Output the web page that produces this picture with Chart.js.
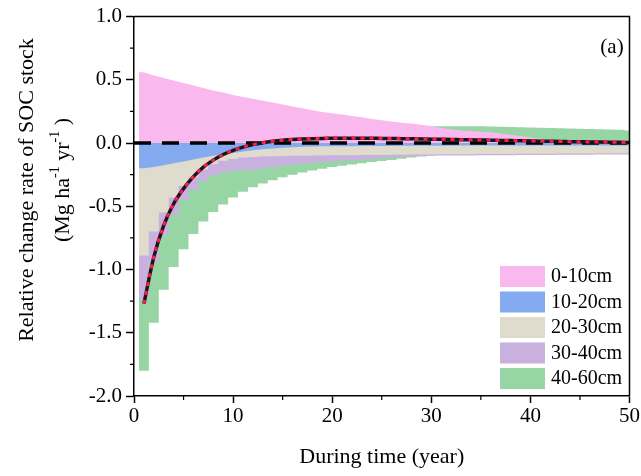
<!DOCTYPE html>
<html>
<head>
<meta charset="utf-8">
<script src="https://cdn.jsdelivr.net/npm/chart.js@4.4.1/dist/chart.umd.min.js"></script>
<style>
  html, body { margin: 0; padding: 0; background: #fff; }
  canvas { display: block; }
</style>
</head>
<body>
<canvas id="chart" width="641" height="476"></canvas>
<script>
// years since conversion
const years = [1, 2, 3, 4, 5, 6, 7, 8, 9, 10, 11, 12, 13, 14, 15, 16, 17, 18, 19, 20,
  21, 22, 23, 24, 25, 26, 27, 28, 29, 30, 31, 32, 33, 34, 35, 36, 37, 38, 39, 40,
  41, 42, 43, 44, 45, 46, 47, 48, 49, 50];

// mean relative change rate (Mg ha-1 yr-1)
const meanRate = [-1.27, -0.90, -0.65, -0.48, -0.36, -0.265, -0.19, -0.135, -0.09, -0.058,
  -0.032, -0.012, 0.003, 0.014, 0.022, 0.028, 0.032, 0.035, 0.037, 0.038,
  0.039, 0.039, 0.039, 0.038, 0.037, 0.036, 0.035, 0.034, 0.033, 0.031,
  0.030, 0.029, 0.027, 0.026, 0.024, 0.023, 0.021, 0.020, 0.018, 0.017,
  0.015, 0.014, 0.013, 0.011, 0.010, 0.009, 0.008, 0.007, 0.006, 0.005];

// ranges per soil layer (low / high)
const low0_10 = [0, 0, 0, 0, 0, 0, 0, 0, 0, 0, 0, 0, 0, 0, 0, 0, 0, 0, 0, 0,
  0, 0, 0, 0, 0, 0, 0, 0, 0, 0, 0, 0, 0, 0, 0, 0, 0, 0, 0, 0,
  0, 0, 0, 0, 0, 0, 0, 0, 0, 0];
const high0_10 = [0.56, 0.535, 0.515, 0.495, 0.475, 0.455, 0.435, 0.415, 0.40, 0.38,
  0.365, 0.35, 0.335, 0.32, 0.305, 0.29, 0.275, 0.26, 0.245, 0.235,
  0.225, 0.215, 0.205, 0.19, 0.18, 0.17, 0.16, 0.155, 0.145, 0.135,
  0.12, 0.11, 0.10, 0.095, 0.09, 0.085, 0.075, 0.065, 0.055, 0.045,
  0.035, 0.025, 0.02, 0.02, 0.02, 0.02, 0.02, 0.02, 0.02, 0.02];

const low10_20 = [-0.20, -0.19, -0.175, -0.16, -0.145, -0.13, -0.115, -0.10, -0.09, -0.078,
  -0.066, -0.056, -0.048, -0.042, -0.037, -0.033, -0.030, -0.028, -0.026, -0.025,
  -0.025, -0.025, -0.024, -0.024, -0.023, -0.023, -0.022, -0.022, -0.022, -0.021,
  -0.021, -0.021, -0.02, -0.02, -0.02, -0.02, -0.02, -0.02, -0.02, -0.02,
  -0.02, -0.02, -0.02, -0.02, -0.02, -0.02, -0.02, -0.02, -0.02, -0.02];
const high10_20 = [0, 0, 0, 0, 0, 0, 0, 0, 0, 0, 0, 0, 0, 0, 0, 0, 0, 0, 0, 0,
  0, 0, 0, 0, 0, 0, 0, 0, 0, 0, 0, 0, 0, 0, 0, 0, 0, 0, 0, 0,
  0, 0, 0, 0, 0, 0, 0, 0, 0, 0];

const low20_30 = [-0.89, -0.70, -0.55, -0.43, -0.34, -0.27, -0.21, -0.165, -0.14, -0.125,
  -0.115, -0.11, -0.107, -0.105, -0.103, -0.101, -0.100, -0.099, -0.098, -0.097,
  -0.096, -0.096, -0.095, -0.095, -0.094, -0.093, -0.092, -0.091, -0.090, -0.090,
  -0.089, -0.089, -0.088, -0.088, -0.087, -0.087, -0.086, -0.086, -0.085, -0.085,
  -0.084, -0.084, -0.083, -0.083, -0.082, -0.082, -0.081, -0.081, -0.080, -0.080];
const high20_30 = [0, 0, 0, 0, 0, 0, 0, 0, 0, 0, 0, 0, 0, 0, 0, 0, 0, 0, 0, 0,
  0, 0, 0, 0, 0, 0, 0, 0, 0, 0, 0, 0, 0, 0, 0, 0, 0, 0, 0, 0,
  0, 0, 0, 0, 0, 0, 0, 0, 0, 0];

const low30_40 = [-1.23, -0.94, -0.73, -0.57, -0.45, -0.37, -0.30, -0.255, -0.23, -0.22,
  -0.215, -0.21, -0.20, -0.19, -0.18, -0.17, -0.162, -0.155, -0.15, -0.145,
  -0.14, -0.135, -0.13, -0.125, -0.12, -0.115, -0.11, -0.106, -0.102, -0.10,
  -0.099, -0.099, -0.098, -0.098, -0.097, -0.097, -0.096, -0.096, -0.095, -0.095,
  -0.094, -0.094, -0.093, -0.093, -0.092, -0.092, -0.091, -0.091, -0.090, -0.090];
const high30_40 = [0, 0, 0, 0, 0, 0, 0, 0, 0, 0, 0, 0, 0, 0, 0, 0, 0, 0, 0, 0,
  0, 0, 0, 0, 0, 0, 0, 0, 0, 0, 0, 0, 0, 0, 0, 0, 0, 0, 0, 0,
  0, 0, 0, 0, 0, 0, 0, 0, 0, 0];

const low40_60 = [-1.80, -1.42, -1.16, -0.98, -0.84, -0.72, -0.62, -0.545, -0.485, -0.43,
  -0.385, -0.35, -0.32, -0.295, -0.27, -0.25, -0.232, -0.216, -0.203, -0.19,
  -0.18, -0.17, -0.16, -0.15, -0.142, -0.133, -0.124, -0.115, -0.106, -0.098,
  -0.095, -0.092, -0.09, -0.088, -0.086, -0.084, -0.082, -0.08, -0.078, -0.076,
  -0.075, -0.074, -0.073, -0.072, -0.071, -0.07, -0.07, -0.07, -0.07, -0.07];
const high40_60 = [-1.0, -0.75, -0.55, -0.40, -0.28, -0.18, -0.10, -0.04, 0.0, 0.03,
  0.05, 0.065, 0.08, 0.09, 0.10, 0.11, 0.115, 0.12, 0.125, 0.128,
  0.13, 0.13, 0.131, 0.131, 0.132, 0.132, 0.133, 0.133, 0.133, 0.133,
  0.133, 0.133, 0.133, 0.132, 0.132, 0.131, 0.13, 0.128, 0.126, 0.124,
  0.122, 0.12, 0.118, 0.116, 0.114, 0.112, 0.11, 0.108, 0.105, 0.10];

const zeroX = [0, 50];
const zeroY = [0, 0];

const layerNames = ['0-10cm', '10-20cm', '20-30cm', '30-40cm', '40-60cm'];
const layerColors = ['#f9b9ee', '#84abef', '#dfdccd', '#c8b1de', '#98d5a4'];

const FONT = "'Liberation Serif', 'Times New Roman', serif";
const CLEAR = 'rgba(0,0,0,0)';

// each yearly value covers the whole year around it, so pad half a year on both ends
function edgePoints(values) {
  const pts = years.map((x, i) => ({ x: x, y: values[i] }));
  pts.unshift({ x: years[0] - 0.5, y: values[0] });
  pts.push({ x: years[years.length - 1] + 0.5, y: values[values.length - 1] });
  return pts;
}

function bandPair(idx, lows, highs, order, stepped) {
  const common = {
    pointRadius: 0,
    borderWidth: 0,
    borderColor: CLEAR,
    tension: 0,
    stepped: stepped ? 'middle' : false,
    order: order
  };
  return [
    Object.assign({ label: layerNames[idx], data: edgePoints(highs), backgroundColor: layerColors[idx], fill: '+1' }, common),
    Object.assign({ label: layerNames[idx] + ' low', data: edgePoints(lows), backgroundColor: CLEAR, fill: false }, common)
  ];
}

// extra drawing: frame, minor ticks, y title, legend, panel tag
const decorations = {
  id: 'decorations',
  afterDraw(chart) {
    const ctx = chart.ctx;
    const area = chart.chartArea;
    const xs = chart.scales.x;
    const ys = chart.scales.y;
    ctx.save();
    ctx.strokeStyle = '#000';
    ctx.lineWidth = 1.5;
    ctx.beginPath();
    ctx.moveTo(area.left, area.top);
    ctx.lineTo(area.right, area.top);
    ctx.lineTo(area.right, area.bottom);
    ctx.stroke();

    // minor ticks
    ctx.lineWidth = 1.2;
    ctx.beginPath();
    for (let v = 5; v < 50; v += 10) {
      const px = xs.getPixelForValue(v);
      ctx.moveTo(px, area.bottom);
      ctx.lineTo(px, area.bottom + 4);
    }
    for (let v = -1.75; v < 1; v += 0.5) {
      const py = ys.getPixelForValue(v);
      ctx.moveTo(area.left, py);
      ctx.lineTo(area.left - 4, py);
    }
    ctx.stroke();

    // y axis title, two lines with superscripts
    drawRotated(ctx, 27, 190, [{ t: 'Relative change rate of SOC stock' }], 22);
    drawRotated(ctx, 63, 180, [
      { t: '(Mg ha' }, { t: '-1', sup: true }, { t: ' yr' }, { t: '-1', sup: true }, { t: ' )' }
    ], 22);

    // legend
    ctx.textAlign = 'left';
    ctx.textBaseline = 'middle';
    ctx.font = '20px ' + FONT;
    layerNames.forEach((name, i) => {
      const top = 266 + i * 25.5;
      ctx.fillStyle = layerColors[i];
      ctx.fillRect(500, top, 45, 21);
      ctx.fillStyle = '#000';
      ctx.fillText(name, 551, top + 11);
    });

    // panel label
    ctx.textAlign = 'center';
    ctx.font = '21px ' + FONT;
    ctx.fillText('(a)', 612, 47);
    ctx.restore();
  }
};

function drawRotated(ctx, cx, cy, parts, size) {
  ctx.save();
  ctx.translate(cx, cy);
  ctx.rotate(-Math.PI / 2);
  ctx.fillStyle = '#000';
  ctx.textAlign = 'left';
  ctx.textBaseline = 'middle';
  let total = 0;
  parts.forEach(p => {
    ctx.font = (p.sup ? Math.round(size * 0.62) : size) + 'px ' + FONT;
    p.w = ctx.measureText(p.t).width;
    total += p.w;
  });
  let x = -total / 2;
  parts.forEach(p => {
    ctx.font = (p.sup ? Math.round(size * 0.62) : size) + 'px ' + FONT;
    ctx.fillText(p.t, x, p.sup ? -size * 0.33 : 0);
    x += p.w;
  });
  ctx.restore();
}

new Chart(document.getElementById('chart'), {
  type: 'line',
  data: {
    datasets: [
      {
        label: 'mean (dots)',
        data: years.map((x, i) => ({ x: x, y: meanRate[i] })),
        borderColor: '#ff1f3d',
        borderWidth: 3,
        borderDash: [4, 5],
        pointRadius: 0,
        cubicInterpolationMode: 'monotone',
        fill: false,
        order: 0
      },
      {
        label: 'mean',
        data: years.map((x, i) => ({ x: x, y: meanRate[i] })),
        borderColor: '#151526',
        borderWidth: 3.5,
        pointRadius: 0,
        cubicInterpolationMode: 'monotone',
        fill: false,
        order: 1
      },
      {
        label: 'zero',
        data: zeroX.map((x, i) => ({ x: x, y: zeroY[i] })),
        borderColor: '#000',
        borderWidth: 3.5,
        borderDash: [17, 11],
        pointRadius: 0,
        fill: false,
        order: 2
      },
      ...bandPair(0, low0_10, high0_10, 3, false),
      ...bandPair(1, low10_20, high10_20, 4, false),
      ...bandPair(2, low20_30, high20_30, 5, true),
      ...bandPair(3, low30_40, high30_40, 6, true),
      ...bandPair(4, low40_60, high40_60, 7, true)
    ]
  },
  options: {
    responsive: false,
    animation: false,
    devicePixelRatio: 1,
    layout: { padding: { top: 16, right: 10, left: 0, bottom: 0 } },
    plugins: {
      legend: { display: false },
      tooltip: { enabled: false }
    },
    scales: {
      x: {
        type: 'linear',
        min: 0,
        max: 50,
        grid: { display: true, drawOnChartArea: false, drawTicks: true, tickLength: 7, tickColor: '#000', tickWidth: 1.5 },
        border: { display: true, color: '#000', width: 1.5 },
        ticks: { stepSize: 10, color: '#000', font: { family: FONT, size: 21 }, padding: 1, maxRotation: 0 },
        title: { display: true, text: 'During time (year)', color: '#000', font: { family: FONT, size: 22 }, padding: { top: 0, bottom: 6 } },
        afterFit: s => { s.height = 80; }
      },
      y: {
        type: 'linear',
        min: -2,
        max: 1,
        grid: { display: true, drawOnChartArea: false, drawTicks: true, tickLength: 8, tickColor: '#000', tickWidth: 1.5 },
        border: { display: true, color: '#000', width: 1.5 },
        ticks: { stepSize: 0.5, color: '#000', font: { family: FONT, size: 21 }, padding: 4, callback: v => v.toFixed(1) },
        afterFit: s => { s.width = 134; }
      }
    }
  },
  plugins: [decorations]
});
</script>
</body>
</html>
